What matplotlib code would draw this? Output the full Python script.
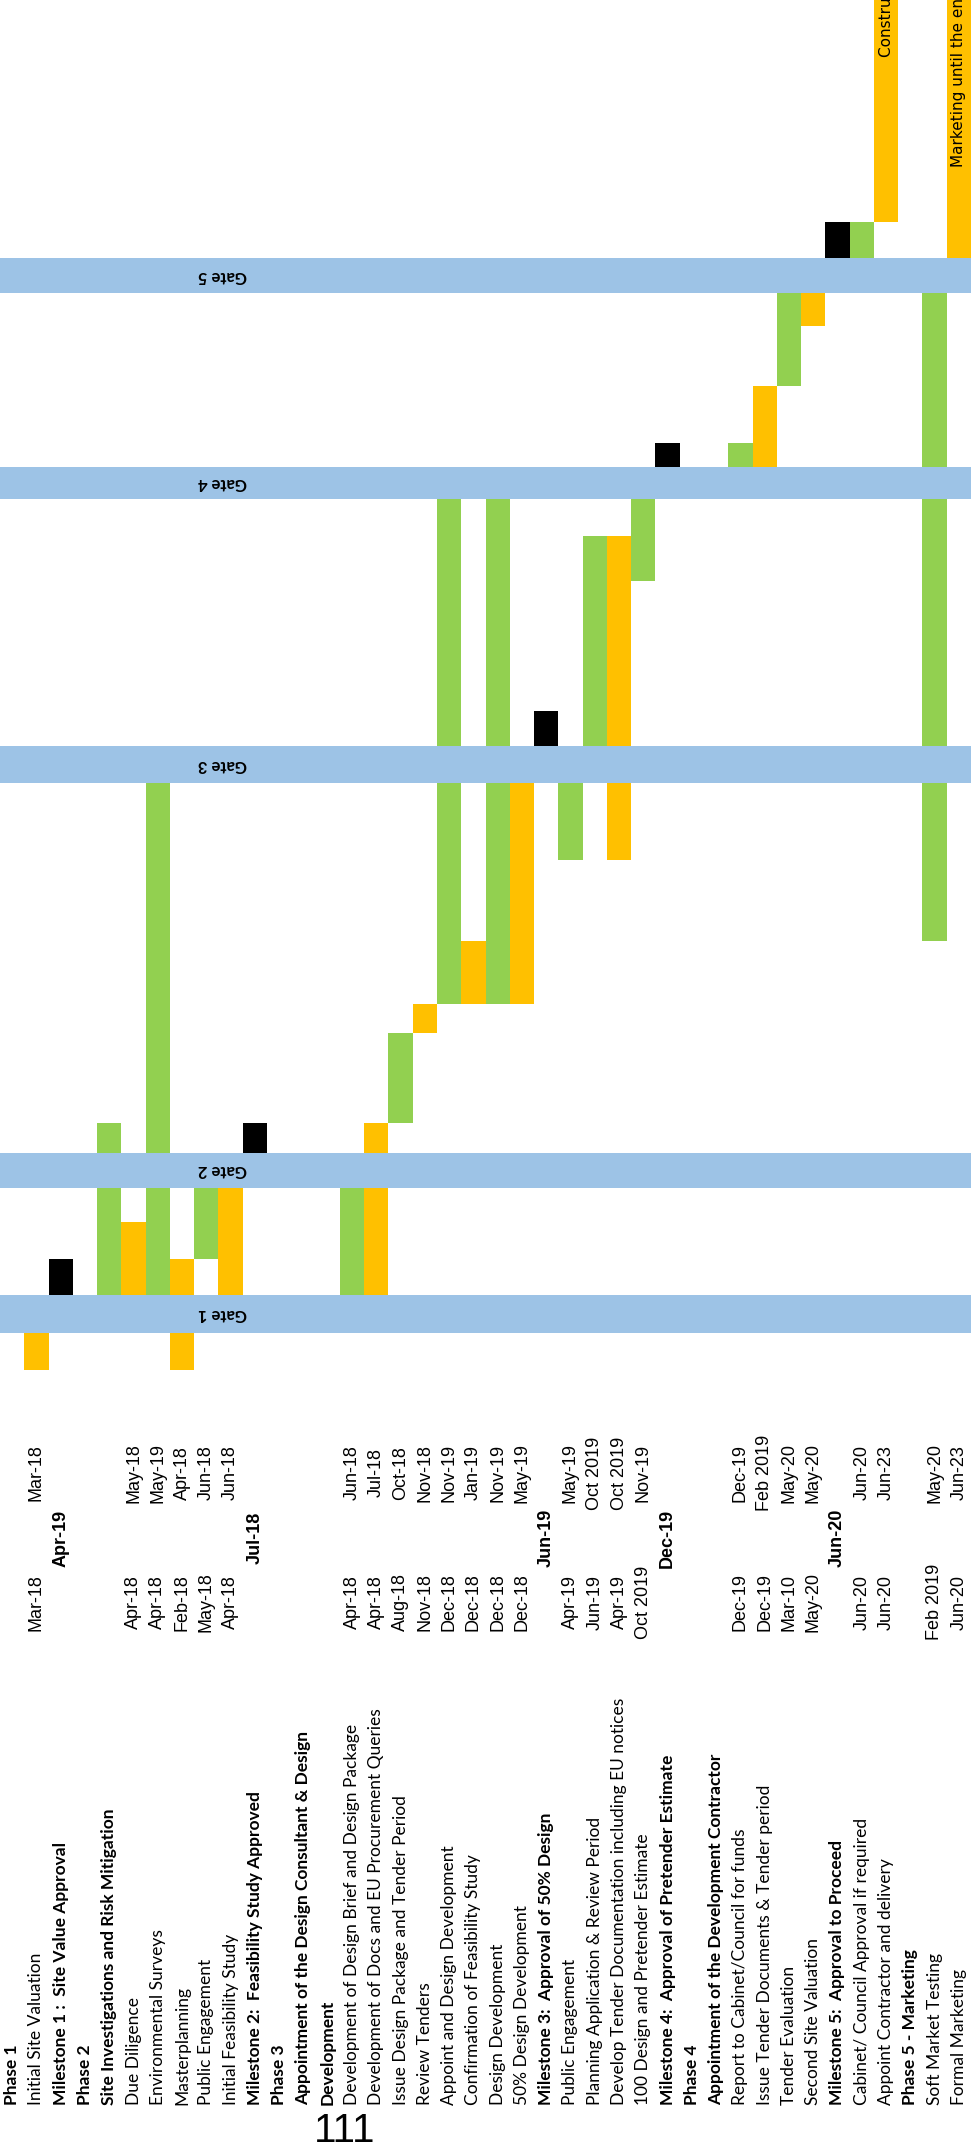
import matplotlib
matplotlib.use("Agg")
import matplotlib.pyplot as plt

# task rows, in order (row 0 is drawn at the left edge)
tasks = [
    "Phase 1", "Initial Site Valuation", "Milestone 1 :  Site Value Approval", "Phase 2",
    "Site Investigations and Risk Mitigation", "Due Diligence", "Environmental Surveys",
    "Masterplanning", "Public Engagement", "Initial Feasibility Study",
    "Milestone 2:  Feasibility Study Approved", "Phase 3",
    "Appointment of the Design Consultant & Design", "Development",
    "Development of Design Brief and Design Package",
    "Development of Docs and EU Procurement Queries",
    "Issue Design Package and Tender Period", "Review Tenders",
    "Appoint and Design Development", "Confirmation of Feasibility Study",
    "Design Development", "50% Design Development",
    "Milestone 3:  Approval of 50% Design", "Public Engagement",
    "Planning Application & Review Period",
    "Develop Tender Documentation including EU notices",
    "100 Design and Pretender Estimate", "Milestone 4:  Approval of Pretender Estimate",
    "Phase 4", "Appointment of the Development Contractor",
    "Report to Cabinet/Council for funds", "Issue Tender Documents & Tender period",
    "Tender Evaluation", "Second Site Valuation", "Milestone 5:  Approval to Proceed",
    "Cabinet/ Council Approval if required", "Appoint Contractor and delivery",
    "Phase 5 - Marketing", "Soft Market Testing", "Formal Marketing",
]
bold_rows = [0, 2, 3, 4, 10, 11, 12, 13, 22, 27, 28, 29, 34, 37]

start_dates = {1: "Mar-18", 5: "Apr-18", 6: "Apr-18", 7: "Feb-18", 8: "May-18", 9: "Apr-18",
               14: "Apr-18", 15: "Apr-18", 16: "Aug-18", 17: "Nov-18", 18: "Dec-18",
               19: "Dec-18", 20: "Dec-18", 21: "Dec-18", 23: "Apr-19", 24: "Jun-19",
               25: "Apr-19", 26: "Oct 2019", 30: "Dec-19", 31: "Dec-19", 32: "Mar-10",
               33: "May-20", 35: "Jun-20", 36: "Jun-20", 38: "Feb 2019", 39: "Jun-20"}
end_dates = {1: "Mar-18", 5: "May-18", 6: "May-19", 7: "Apr-18", 8: "Jun-18", 9: "Jun-18",
             14: "Jun-18", 15: "Jul-18", 16: "Oct-18", 17: "Nov-18", 18: "Nov-19",
             19: "Jan-19", 20: "Nov-19", 21: "May-19", 23: "May-19", 24: "Oct 2019",
             25: "Oct 2019", 26: "Nov-19", 30: "Dec-19", 31: "Feb 2019", 32: "May-20",
             33: "May-20", 35: "Jun-20", 36: "Jun-23", 38: "May-20", 39: "Jun-23"}
milestone_dates = {2: "Apr-19", 10: "Jul-18", 22: "Jun-19", 27: "Dec-19", 34: "Jun-20"}

# timeline in cell units (0 = bottom of the earliest cell)
bar_rows = [1, 2, 4, 5, 6, 7, 8, 9, 10, 14, 15, 16, 17, 18, 19, 20, 21, 22, 23, 24, 25,
            26, 27, 30, 31, 32, 33, 34, 35, 36, 38, 39]
bar_start = [0, 2.08, 2.08, 2.08, 2.08, 0, 3.08, 2.08, 6.03, 2.08, 2.08, 6.86, 9.36,
             10.17, 10.17, 10.17, 10.17, 17.33, 14.17, 17.33, 14.17, 21.92, 25.08,
             25.08, 25.08, 27.33, 29.0, 30.89, 30.89, 31.89, 11.92, 30.89]
bar_end = [1.03, 3.08, 6.86, 4.11, 16.31, 3.08, 5.06, 5.06, 6.86, 5.06, 6.86, 9.36, 10.17,
           24.19, 11.92, 24.19, 16.31, 18.31, 16.31, 23.17, 23.17, 24.19, 25.75,
           25.75, 27.33, 29.94, 29.94, 31.89, 31.89, 38.2, 29.94, 38.2]
bar_kind = ["plan", "milestone", "actual", "plan", "actual", "plan", "actual", "plan",
            "milestone", "actual", "plan", "actual", "plan", "actual", "plan", "actual",
            "plan", "milestone", "actual", "actual", "plan", "actual", "milestone",
            "actual", "plan", "actual", "plan", "milestone", "actual", "plan", "actual",
            "plan"]

gate_names = ["Gate 1", "Gate 2", "Gate 3", "Gate 4", "Gate 5"]
gate_lo = [1.03, 5.06, 16.31, 24.19, 29.92]
gate_hi = [2.08, 6.03, 17.33, 25.08, 30.89]

bar_notes = {36: ("Construction and delivery", 36.47), 39: ("Marketing until the end of construction", 33.42)}

colors = {"plan": "#FFC000", "actual": "#92D050", "milestone": "#000000"}

fig = plt.figure(figsize=(9.71, 21.54), dpi=100)
ax = fig.add_axes([0, 0, 1, 1])
ax.set_xlim(0, 40)
ax.set_ylim(-21.78, 38.06)
ax.axis("off")

for r, s, e, k in zip(bar_rows, bar_start, bar_end, bar_kind):
    ax.bar(r + 0.5, e - s, bottom=s, width=1.0, color=colors[k], linewidth=0, zorder=2)

for name, lo, hi in zip(gate_names, gate_lo, gate_hi):
    ax.axhspan(lo, hi, color="#9DC3E6", linewidth=0, zorder=3)
    ax.text(9.15, (lo + hi) / 2, name, rotation=180, ha="center", va="center",
            fontsize=12, fontweight="bold", family="Lato", zorder=4)

for r, (note, y0) in bar_notes.items():
    ax.text(r + 0.5, y0, note, rotation=90, rotation_mode="anchor", ha="left",
            va="center", fontsize=11, family="DejaVu Sans", zorder=4)

for i, name in enumerate(tasks):
    ax.text(i + 0.5, -20.42, name, rotation=90, rotation_mode="anchor", ha="left",
            va="center", fontsize=12.5, family="Lato",
            fontweight="bold" if i in bold_rows else "normal")

for r, d in start_dates.items():
    ax.text(r + 0.5, -6.45, d, rotation=90, ha="center", va="center", fontsize=13,
            family="Liberation Sans")
for r, d in end_dates.items():
    ax.text(r + 0.5, -2.86, d, rotation=90, ha="center", va="center", fontsize=13,
            family="Liberation Sans")
for r, d in milestone_dates.items():
    ax.text(r + 0.5, -4.67, d, rotation=90, ha="center", va="center", fontsize=13,
            family="Liberation Sans", fontweight="bold")

fig.text(0.323, 0.002, "111", fontsize=29, family="Liberation Sans", ha="left", va="bottom")

fig.savefig("out.png", dpi=100)
